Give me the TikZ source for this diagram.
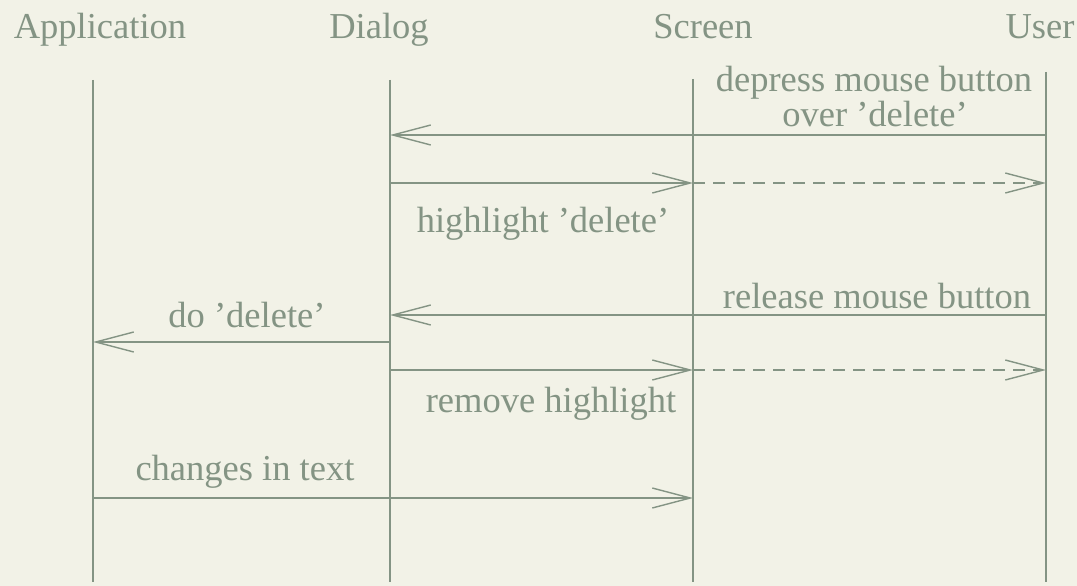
\documentclass[tikz,border=0pt]{standalone}
\usepackage{fontspec}
\setmainfont{Liberation Serif}
\usetikzlibrary{arrows.meta}
\definecolor{bg}{HTML}{F2F2E7}
\definecolor{ink}{HTML}{849484}
\begin{document}
\begin{tikzpicture}[x=1pt,y=-1pt,
  every node/.style={text=ink,font=\fontsize{36.5}{35}\selectfont,inner sep=0pt,anchor=base},
  life/.style={draw=ink,line width=1.4pt},
  msg/.style={draw=ink,line width=1.4pt,-{Straight Barb[length=38pt,width=20pt,line width=1.4pt]}},
  echo/.style={msg,dash pattern=on 12pt off 8pt}]
\fill[bg] (0,0) rectangle (1077,586);
\useasboundingbox (0,0) rectangle (1077,586);
% participant headings
\node (app)  at (100,39)  {Application};
\node (dlg)  at (379,39)  {Dialog};
\node (scr)  at (703,39)  {Screen};
\node (usr)  at (1040,39) {User};
% lifelines
\coordinate (a0) at (93,80);   \coordinate (a1) at (93,582);
\coordinate (d0) at (390,80);  \coordinate (d1) at (390,582);
\coordinate (s0) at (693,79);  \coordinate (s1) at (693,582);
\coordinate (u0) at (1046,72); \coordinate (u1) at (1046,582);
\draw[life] (a0) -- (a1);
\draw[life] (d0) -- (d1);
\draw[life] (s0) -- (s1);
\draw[life] (u0) -- (u1);
% message anchor points on the lifelines
\foreach \n/\x in {a/93,d/390,s/693,u/1046}{
  \foreach \k/\y in {1/135,2/183,3/315,4/342,5/370,6/498}{
    \coordinate (\n\k) at (\x,\y);
  }
}
% press
\draw[msg] (u1) -- (d1);
\node (press)  at (874,92)  {depress mouse button};
\node (press2) at (875,126) {over 'delete'};
% highlight
\draw[msg] (d2) -- (s2);
\draw[echo] (s2) -- (u2);
\node (hl) at (543,232) {highlight 'delete'};
% release
\draw[msg] (u3) -- (d3);
\node (rel) at (877,308) {release mouse button};
% do delete
\draw[msg] (d4) -- (a4);
\node (do) at (247,327) {do 'delete'};
% remove highlight
\draw[msg] (d5) -- (s5);
\draw[echo] (s5) -- (u5);
\node (rm) at (551,412) {remove highlight};
% text changes
\draw[msg] (a6) -- (s6);
\node (ch) at (245,480) {changes in text};
\end{tikzpicture}
\end{document}
